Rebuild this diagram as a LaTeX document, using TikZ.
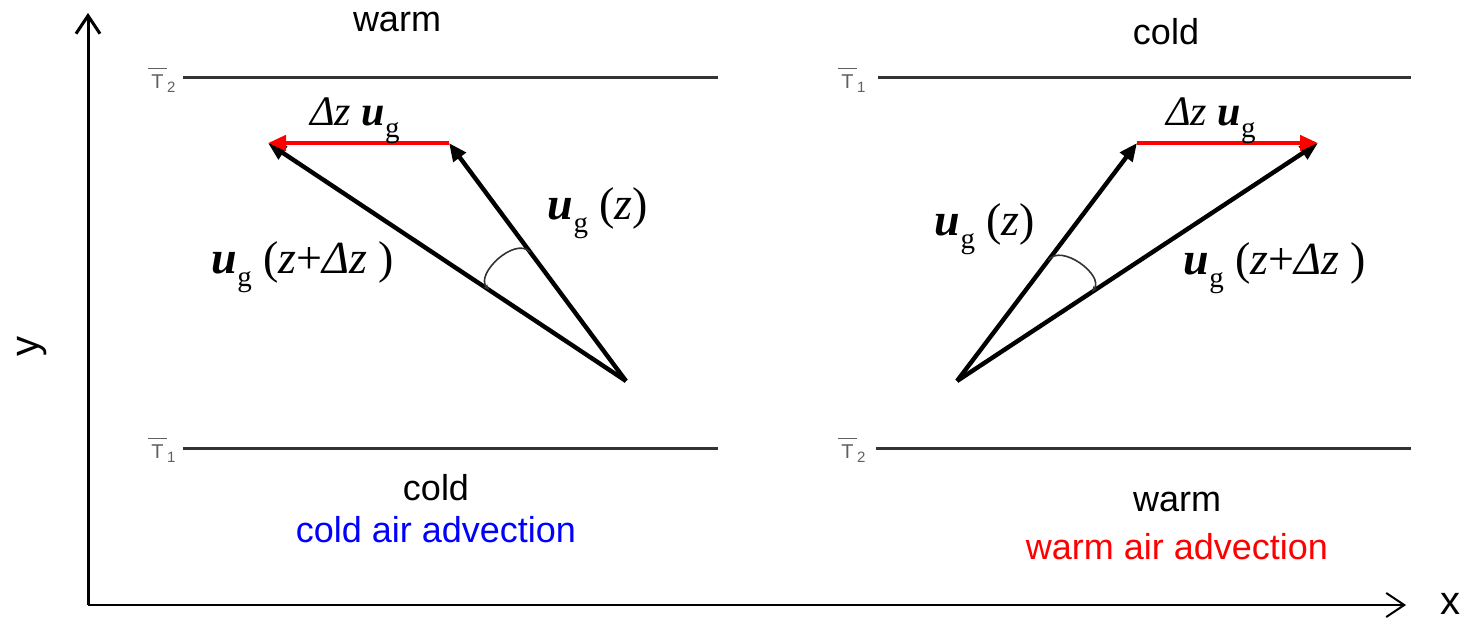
\documentclass[tikz,border=0pt]{standalone}
\usepackage{fontspec}
\setmainfont{Liberation Serif}
\newfontfamily\arialf{Liberation Sans}
\usetikzlibrary{arrows.meta,calc}
\newcommand{\ugv}{{\bfseries\itshape u}\raisebox{-0.28em}{\fontsize{29}{29}\selectfont g}}
\newcommand{\tbar}[1]{{\arialf\fontsize{20}{20}\selectfont$\overline{\rule{0pt}{0.95em}\,\mbox{T}\,}_{\mbox{\fontsize{15}{15}\selectfont #1}}$}}
\tikzset{
  sanslab/.style={font=\arialf\fontsize{36}{40}\selectfont, inner sep=0pt},
  mathlab/.style={font=\fontsize{46}{50}\selectfont, inner sep=0pt},
  dzlab/.style={font=\fontsize{42}{46}\selectfont, inner sep=0pt},
  tlab/.style={text=gray!75!black, inner sep=0pt},
  isoline/.style={draw=black!80, line width=3pt},
  vec/.style={line width=4.4pt, -{Triangle[length=18pt,width=15pt]}},
  redvec/.style={draw=red, line width=4.4pt, -{Triangle[length=18pt,width=15pt]}},
  anglearc/.style={draw=black!80, line width=1.6pt},
}
\begin{document}
\begin{tikzpicture}[x=1pt,y=-1pt]
\useasboundingbox (0,0) rectangle (1466,620);
% axes
\coordinate (orig) at (88,605);
\coordinate (ytop) at (88,13);
\coordinate (xend) at (1406,605);
\draw[line width=3pt, -{Straight Barb[length=18pt,width=24pt,line width=3pt]}] (orig) -- (ytop);
\draw[line width=2pt, -{Straight Barb[length=18pt,width=24pt,line width=2pt]}] (orig) -- (xend);
\node[sanslab, font=\arialf\fontsize{40}{44}\selectfont, anchor=base] (xl) at (1450,614) {x};
\node[sanslab, font=\arialf\fontsize{40}{44}\selectfont, rotate=90] (yl) at (32,346) {y};
% isolines left
\node[tlab] (lt2) at (162,80) {\tbar{2}};
\node[tlab] (lt1) at (162,450) {\tbar{1}};
\coordinate (l1a) at (183,78); \coordinate (l1b) at (718,78);
\coordinate (l2a) at (183,448); \coordinate (l2b) at (718,448);
\draw[isoline] (l1a) -- (l1b);
\draw[isoline] (l2a) -- (l2b);
% isolines right
\node[tlab] (rt1) at (852,80) {\tbar{1}};
\node[tlab] (rt2) at (852,450) {\tbar{2}};
\coordinate (r1a) at (878,78); \coordinate (r1b) at (1411,78);
\coordinate (r2a) at (876,448); \coordinate (r2b) at (1411,448);
\draw[isoline] (r1a) -- (r1b);
\draw[isoline] (r2a) -- (r2b);
% texts
\node[sanslab] (warmL) at (397,22) {warm};
\node[sanslab] (coldL) at (436,488) {cold};
\node[sanslab, text=blue] (caa) at (436,530) {cold air advection};
\node[sanslab] (coldR) at (1166,32) {cold};
\node[sanslab] (warmR) at (1177,502) {warm};
\node[sanslab, text=red] (waa) at (1177,547) {warm air advection};
% left vectors
\coordinate (O1) at (626,381);
\coordinate (A1) at (449,143);
\coordinate (B1) at (268,143);
\draw[vec] (O1) -- (A1);
\draw[vec] (O1) -- (B1);
\draw[redvec] (A1) -- (B1);
\draw[anglearc, -{Stealth[length=6pt,width=5pt]}] ($(O1)!0.542!(A1)$) to[bend right=90] ($(O1)!0.382!(B1)$);
\node[dzlab] (dL) at (355,121) {{\itshape Δz} \ugv};
\node[mathlab] (ugzL) at (598,213) {\ugv\ ({\itshape z})};
\node[mathlab] (ugdzL) at (303,267) {\ugv\ ({\itshape z}+{\itshape Δz} )};
% right vectors
\coordinate (O2) at (957,381);
\coordinate (A2) at (1137,143);
\coordinate (B2) at (1318,143);
\draw[vec] (O2) -- (A2);
\draw[vec] (O2) -- (B2);
\draw[redvec] (A2) -- (B2);
\draw[anglearc, -{Stealth[length=6pt,width=5pt]}] ($(O2)!0.508!(A2)$) to[bend left=90] ($(O2)!0.374!(B2)$);
\node[dzlab] (dR) at (1211,121) {{\itshape Δz} \ugv};
\node[mathlab] (ugzR) at (985,229) {\ugv\ ({\itshape z})};
\node[mathlab] (ugdzR) at (1275,268) {\ugv\ ({\itshape z}+{\itshape Δz} )};
\end{tikzpicture}
\end{document}
